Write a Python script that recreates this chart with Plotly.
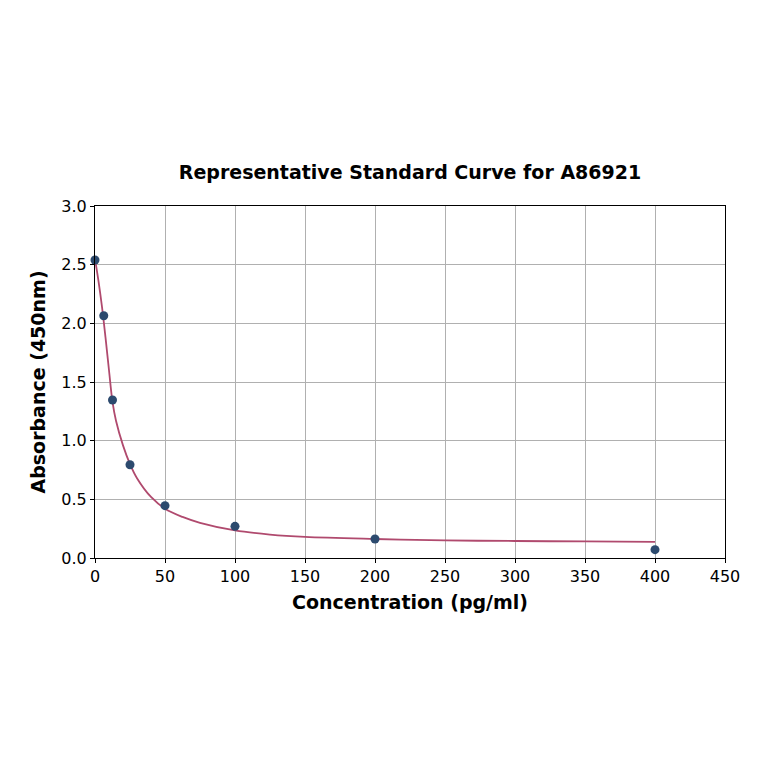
import plotly.graph_objects as go

# standard points
conc = [0, 6.25, 12.5, 25, 50, 100, 200, 400]
absorb = [2.54, 2.065, 1.347, 0.795, 0.446, 0.27, 0.162, 0.071]

# fitted curve
curve_x = [0, 2.5, 5, 7.5, 10, 12.5, 15, 20, 25, 30, 40, 50, 62.5, 75, 100, 125, 150, 200, 250, 300, 350, 400]
curve_y = [2.55, 2.36, 2.14, 1.88, 1.6, 1.33, 1.17, 0.96, 0.8, 0.68, 0.52, 0.42, 0.35, 0.3, 0.235, 0.2, 0.18, 0.162, 0.15, 0.145, 0.141, 0.138]

x_ticks = [0, 50, 100, 150, 200, 250, 300, 350, 400, 450]
y_ticks = [0.0, 0.5, 1.0, 1.5, 2.0, 2.5, 3.0]

font = "DejaVu Sans"

fig = go.Figure()
fig.add_trace(go.Scatter(x=curve_x, y=curve_y, mode="lines",
                         line=dict(color="#b04a6e", width=1.8, shape="spline"),
                         hoverinfo="skip"))
fig.add_trace(go.Scatter(x=conc, y=absorb, mode="markers", cliponaxis=False,
                         marker=dict(color="#2c4a6e", size=9)))

axis_style = dict(showline=True, linecolor="black", linewidth=1, mirror=True,
                  showgrid=True, gridcolor="#b0b0b0", gridwidth=1,
                  ticks="outside", ticklen=4, tickcolor="black",
                  tickfont=dict(family=font, size=16, color="black"),
                  zeroline=False)

fig.update_xaxes(range=[0, 450], tickvals=x_ticks,
                 title=dict(text="<b>Concentration (pg/ml)</b>", font=dict(family=font, size=19, color="black"), standoff=10),
                 **axis_style)
fig.update_yaxes(range=[0, 3.0], tickvals=y_ticks, tickformat=".1f",
                 title=dict(text="<b>Absorbance (450nm)</b>", font=dict(family=font, size=19, color="black"), standoff=10),
                 **axis_style)

fig.update_layout(
    width=764, height=764,
    margin=dict(l=87, r=47, t=198, b=214),
    paper_bgcolor="white", plot_bgcolor="white",
    showlegend=False,
    title=dict(text="<b>Representative Standard Curve for A86921</b>",
               x=(402 / 764), xanchor="center", y=0.785, yanchor="middle",
               font=dict(family=font, size=19, color="black")),
)

fig.write_html("out.html")
